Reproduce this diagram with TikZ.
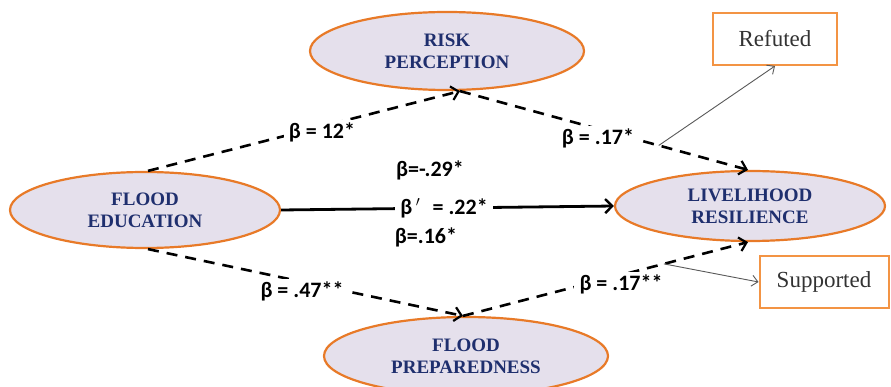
\documentclass[tikz,border=0pt]{standalone}
\usepackage{fontspec}
\setmainfont{Liberation Serif}
\newfontfamily\labfont{Carlito}
\usetikzlibrary{shapes.geometric,arrows.meta}
\definecolor{orng}{HTML}{E87A28}
\definecolor{lav}{HTML}{E5E0EC}
\definecolor{navy}{HTML}{1F2F6E}
\definecolor{boxor}{HTML}{F39444}
\begin{document}
\begin{tikzpicture}[x=1pt,y=-1pt,
 var/.style={ellipse,draw=orng,line width=2.2pt,fill=lav,inner sep=0pt,font=\bfseries\fontsize{19}{22}\selectfont,text=navy,align=center},
 res/.style={draw=boxor,line width=2pt,fill=white,minimum width=124pt,minimum height=52pt,inner sep=0pt,font=\fontsize{23}{26}\selectfont,text=black!80},
 dpath/.style={line width=2.6pt,dash pattern=on 11pt off 8pt,-{Straight Barb[length=7pt,width=14pt,line width=2.2pt]}},
 spath/.style={line width=2.8pt,-{Straight Barb[length=7pt,width=14pt,line width=2.4pt]}},
 lbl/.style={fill=white,inner xsep=5pt,inner ysep=2pt,font=\labfont\bfseries\fontsize{22}{24}\selectfont},
 thinarrow/.style={draw=black!65,line width=0.9pt,-{Straight Barb[length=6pt,width=11pt]}}]
\clip (0,0) rectangle (891,387);
\fill[white] (0,0) rectangle (891,387);
\node[var,minimum width=270pt,minimum height=76pt] (fe) at (145,210) {FLOOD\\EDUCATION};
\node[var,minimum width=274pt,minimum height=78pt] (rp) at (447,51) {RISK\\PERCEPTION};
\node[var,minimum width=270pt,minimum height=70pt] (lr) at (750,206) {LIVELIHOOD\\RESILIENCE};
\node[var,minimum width=284pt,minimum height=78pt] (fp) at (466,356) {FLOOD\\PREPAREDNESS};
\node[res] (ref) at (775,39) {Refuted};
\node[res,minimum width=129pt] (sup) at (824,282) {Supported};
% paths
\draw[dpath] ([xshift=3pt]fe.north) -- ([xshift=13pt]rp.south);
\draw[dpath] ([xshift=13pt]rp.south) -- ([xshift=-2pt]lr.north) coordinate[pos=0.69] (rstart);
\draw[dpath] ([xshift=3pt]fe.south) -- ([xshift=-3pt]fp.north);
\draw[dpath] ([xshift=-3pt]fp.north) -- ([xshift=-2pt]lr.south) coordinate[pos=0.705] (sstart);
\draw[spath] (fe.east) -- (lr.west);
\draw[thinarrow] (rstart) -- (ref.south);
\draw[thinarrow] (sstart) -- (sup.west);
% labels
\node[lbl] (l1) at (322,132) {β = 12*};
\node[lbl] (l2) at (598,138) {β = .17*};
\node[lbl,fill=none] (l3) at (430,170) {β=-.29*};
\node[lbl] (l4) at (444,208) {β\,$^{\prime}$\;\;= .22*};
\node[lbl,fill=none] (l5) at (426,237) {β=.16*};
\node[lbl,inner xsep=8pt] (l6) at (302,291) {β = .47**};
\node[lbl,inner xsep=6pt] (l7) at (621,284) {β = .17**};
\end{tikzpicture}
\end{document}
